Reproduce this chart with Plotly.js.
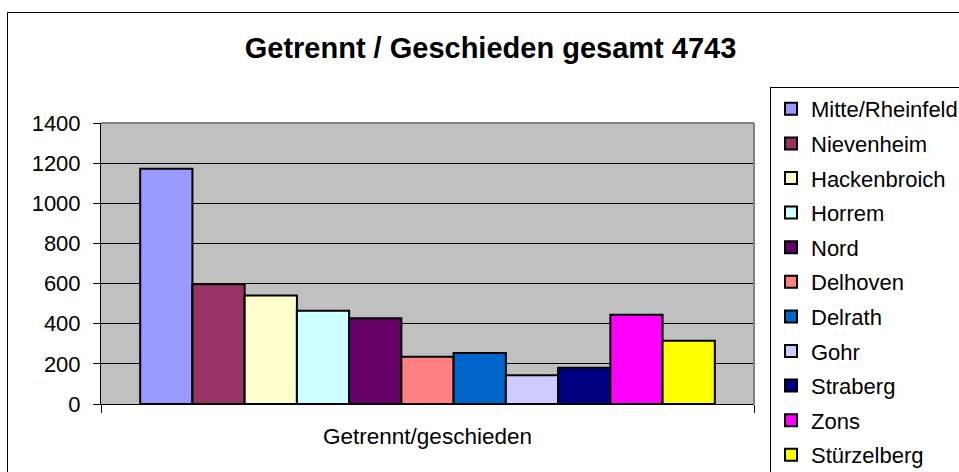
<!DOCTYPE html>
<html>
<head>
<meta charset="utf-8">
<script src="https://cdn.plot.ly/plotly-3.0.1.min.js"></script>
<style>html,body{margin:0;padding:0;background:#fff;}#chart{width:959px;height:472px;}</style>
</head>
<body>
<div id="chart"></div>
<script>
const category = ["Getrennt/geschieden"];
const districts = ["Mitte/Rheinfeld","Nievenheim","Hackenbroich","Horrem","Nord","Delhoven","Delrath","Gohr","Straberg","Zons","Stürzelberg"];
const values = [1172, 596, 541, 465, 427, 235, 254, 143, 181, 445, 315];
const colors = ["#9999FF","#993366","#FFFFCC","#CCFFFF","#660066","#FF8080","#0066CC","#CCCCFF","#000080","#FF00FF","#FFFF00"];
const yTicks = [0, 200, 400, 600, 800, 1000, 1200, 1400];
const titleText = "Getrennt / Geschieden gesamt 4743";

const FONT = "Liberation Sans, Arial, sans-serif";

const traces = districts.map((name, i) => ({
  type: "bar",
  x: category,
  y: [values[i]],
  name: name,
  legendgroup: "g" + i,
  marker: { color: colors[i], line: { color: "#000000", width: 2 } }
}));

const layout = {
  width: 959,
  height: 472,
  margin: { l: 101, r: 205, t: 123, b: 68, autoexpand: false },
  paper_bgcolor: "#FFFFFF",
  plot_bgcolor: "#C0C0C0",
  font: { family: FONT, color: "#000000", size: 22 },
  barmode: "group",
  bargap: 0.12,
  bargroupgap: 0,
  title: {
    text: "<b>" + titleText + "</b>",
    font: { family: FONT, size: 29, color: "#000000" },
    xref: "container", yref: "container",
    x: 490.5 / 959, y: 1 - 48 / 472,
    xanchor: "center", yanchor: "middle"
  },
  xaxis: {
    type: "category",
    tickson: "boundaries",
    ticks: "outside",
    ticklen: 8,
    tickcolor: "#000000",
    tickwidth: 1,
    showline: true,
    linecolor: "#000000",
    linewidth: 1,
    showgrid: false,
    tickfont: { family: FONT, size: 22.5, color: "#000000" },
    ticklabelstandoff: 12,
    fixedrange: true
  },
  yaxis: {
    range: [0, 1400],
    tickvals: yTicks,
    ticktext: yTicks.map(String),
    showgrid: true,
    gridcolor: "#000000",
    gridwidth: 1,
    zeroline: false,
    ticks: "outside",
    ticklen: 7,
    tickcolor: "#000000",
    showline: true,
    linecolor: "#000000",
    linewidth: 1,
    tickfont: { family: FONT, size: 22, color: "#000000" },
    ticklabelstandoff: 8,
    fixedrange: true
  },
  legend: {
    x: (770 - 101) / 653,
    y: (404 - 87) / 281,
    xanchor: "left",
    yanchor: "top",
    maxheight: 600,
    bgcolor: "#FFFFFF",
    bordercolor: "#000000",
    borderwidth: 1,
    font: { family: FONT, size: 22, color: "#000000" },
    tracegroupgap: 3,
    traceorder: "grouped"
  },
  shapes: [
    { type: "line", xref: "paper", yref: "paper", x0: 0, x1: 1, y0: 1, y1: 1, line: { color: "#808080", width: 2 } },
    { type: "line", xref: "paper", yref: "paper", x0: 1, x1: 1, y0: 0, y1: 1, line: { color: "#808080", width: 2 } },
    { type: "rect", xref: "paper", yref: "paper", x0: (7.5 - 101) / 653, x1: 1.6, y0: -0.6, y1: (404 - 12.5) / 281, line: { color: "#000000", width: 1 }, fillcolor: "rgba(0,0,0,0)", layer: "below" }
  ],
  showlegend: true
};

Plotly.newPlot("chart", traces, layout, { displayModeBar: false, staticPlot: true });
</script>
</body>
</html>
